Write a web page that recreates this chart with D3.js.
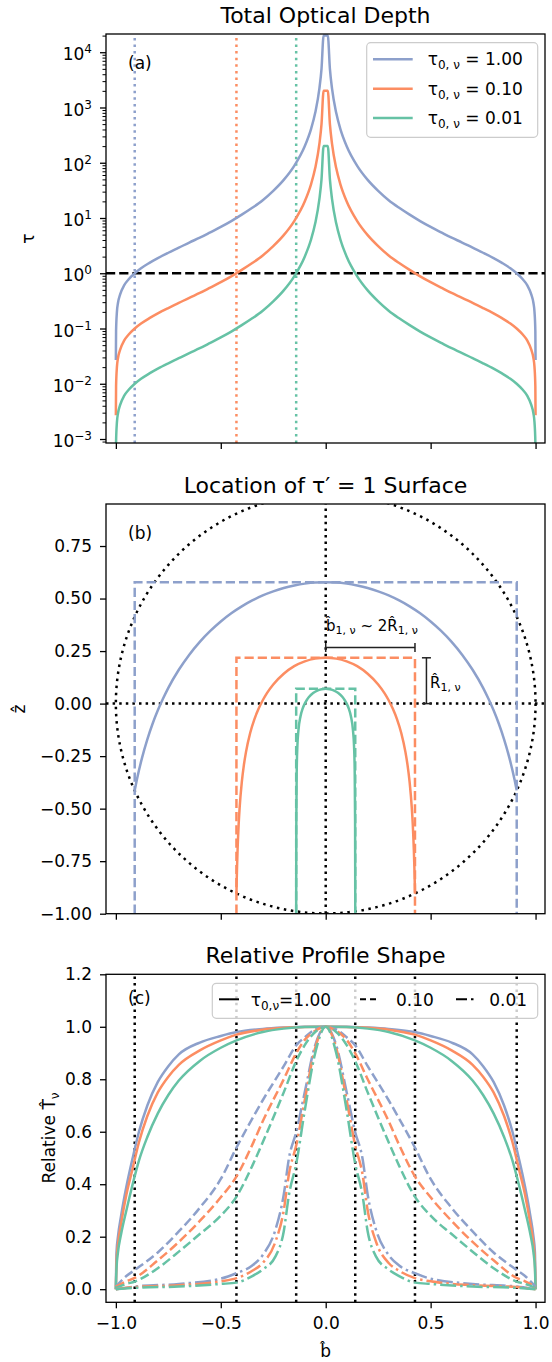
<!DOCTYPE html>
<html>
<head>
<meta charset="utf-8">
<script src="https://cdn.jsdelivr.net/npm/d3@7/dist/d3.min.js"></script>
<style>
  body { margin: 0; background: #fff; }
  text { font-family: 'DejaVu Sans', sans-serif; fill: #000; }
</style>
</head>
<body>
<script>
'use strict';

// one colour per tau0 (matplotlib Set2)
const colors = ['#8da0cb', '#fc8d62', '#66c2a5']
const tauNames = ['1.00', '0.10', '0.01']
const bOne = [0.9102, 0.4254, 0.1407]     // impact parameter where tau = 1
const zTop = [0.577, 0.218, 0.0705]       // top of the tau' = 1 surface

// ---- panel (a): total optical depth
const bA = [-1, -0.999, -0.995, -0.99, -0.98, -0.96, -0.94, -0.91, -0.88, -0.84, -0.8, -0.75, -0.7, -0.65, -0.6, -0.55, -0.5, -0.45, -0.4, -0.35, -0.3, -0.25, -0.2, -0.15, -0.1, -0.07, -0.05, -0.03, -0.02, -0.01,
  0.01, 0.02, 0.03, 0.05, 0.07, 0.1, 0.15, 0.2, 0.25, 0.3, 0.35, 0.4, 0.45, 0.5, 0.55, 0.6, 0.65, 0.7, 0.75, 0.8, 0.84, 0.88, 0.91, 0.94, 0.96, 0.98, 0.99, 0.995, 0.999, 1]
const tauA1 = [0.027, 0.09, 0.2, 0.29, 0.41, 0.61, 0.77, 1.0, 1.23, 1.54, 1.88, 2.35, 2.9, 3.6, 4.4, 5.5, 6.9, 8.8, 11.5, 15.3, 21, 31, 49, 88, 199, 407, 800, 2220, 5000, 20000,
  20000, 5000, 2220, 800, 407, 199, 88, 49, 31, 21, 15.3, 11.5, 8.8, 6.9, 5.5, 4.4, 3.6, 2.9, 2.35, 1.88, 1.54, 1.23, 1.0, 0.77, 0.61, 0.41, 0.29, 0.2, 0.09, 0.027]
const tauA2 = [0.0027, 0.009, 0.02, 0.029, 0.041, 0.061, 0.077, 0.1, 0.123, 0.154, 0.188, 0.235, 0.29, 0.36, 0.44, 0.55, 0.69, 0.88, 1.15, 1.53, 2.1, 3.1, 4.9, 8.8, 19.9, 40.7, 80, 222, 500, 2000,
  2000, 500, 222, 80, 40.7, 19.9, 8.8, 4.9, 3.1, 2.1, 1.53, 1.15, 0.88, 0.69, 0.55, 0.44, 0.36, 0.29, 0.235, 0.188, 0.154, 0.123, 0.1, 0.077, 0.061, 0.041, 0.029, 0.02, 0.009, 0.0027]
const tauA3 = [0.00027, 0.0009, 0.002, 0.0029, 0.0041, 0.0061, 0.0077, 0.01, 0.0123, 0.0154, 0.0188, 0.0235, 0.029, 0.036, 0.044, 0.055, 0.069, 0.088, 0.115, 0.153, 0.21, 0.31, 0.49, 0.88, 1.99, 4.07, 8.0, 22.2, 50, 200,
  200, 50, 22.2, 8.0, 4.07, 1.99, 0.88, 0.49, 0.31, 0.21, 0.153, 0.115, 0.088, 0.069, 0.055, 0.044, 0.036, 0.029, 0.0235, 0.0188, 0.0154, 0.0123, 0.01, 0.0077, 0.0061, 0.0041, 0.0029, 0.002, 0.0009, 0.00027]
const logTicks = [1e-3, 1e-2, 1e-1, 1e0, 1e1, 1e2, 1e3, 1e4]

// ---- panel (b): location of the tau' = 1 surface
const bB1 = [-0.91, -0.9, -0.875, -0.85, -0.825, -0.8, -0.775, -0.75, -0.7, -0.65, -0.6, -0.55, -0.5, -0.45, -0.4, -0.35, -0.3, -0.25, -0.2, -0.15, -0.1, -0.05, 0,
  0.05, 0.1, 0.15, 0.2, 0.25, 0.3, 0.35, 0.4, 0.45, 0.5, 0.55, 0.6, 0.65, 0.7, 0.75, 0.775, 0.8, 0.825, 0.85, 0.875, 0.9, 0.91]
const zB1 = [-0.413, -0.363, -0.257, -0.170, -0.096, -0.032, 0.024, 0.075, 0.161, 0.233, 0.294, 0.346, 0.391, 0.430, 0.463, 0.491, 0.515, 0.534, 0.550, 0.562, 0.571, 0.576, 0.577,
  0.576, 0.571, 0.562, 0.550, 0.534, 0.515, 0.491, 0.463, 0.430, 0.391, 0.346, 0.294, 0.233, 0.161, 0.075, 0.024, -0.032, -0.096, -0.170, -0.257, -0.363, -0.413]
const bB2 = [-0.4254, -0.424, -0.4225, -0.42, -0.415, -0.41, -0.4, -0.39, -0.38, -0.36, -0.34, -0.32, -0.3, -0.28, -0.25, -0.2, -0.15, -0.1, -0.05, 0,
  0.05, 0.1, 0.15, 0.2, 0.25, 0.28, 0.3, 0.32, 0.34, 0.36, 0.38, 0.39, 0.4, 0.41, 0.415, 0.42, 0.4225, 0.424, 0.4254]
const zB2 = [-0.905, -0.837, -0.778, -0.697, -0.578, -0.493, -0.375, -0.293, -0.231, -0.140, -0.075, -0.025, 0.016, 0.050, 0.091, 0.142, 0.178, 0.201, 0.214, 0.218,
  0.214, 0.201, 0.178, 0.142, 0.091, 0.050, 0.016, -0.025, -0.075, -0.140, -0.231, -0.293, -0.375, -0.493, -0.578, -0.697, -0.778, -0.837, -0.905]
const bB3 = [-0.1407, -0.1406, -0.1405, -0.14, -0.138, -0.135, -0.13, -0.12, -0.11, -0.1, -0.09, -0.08, -0.06, -0.04, -0.02, 0,
  0.02, 0.04, 0.06, 0.08, 0.09, 0.1, 0.11, 0.12, 0.13, 0.135, 0.138, 0.14, 0.1405, 0.1406, 0.1407]
const zB3 = [-0.99, -0.854, -0.775, -0.557, -0.311, -0.202, -0.127, -0.060, -0.024, 0.000, 0.017, 0.031, 0.050, 0.062, 0.068, 0.0705,
  0.068, 0.062, 0.050, 0.031, 0.017, 0.000, -0.024, -0.060, -0.127, -0.202, -0.311, -0.557, -0.775, -0.854, -0.99]

// ---- panel (c): relative profile shape (solid: 1.00, dashed: 0.10, dash-dot: 0.01)
const bC = [-1, -0.997, -0.99, -0.975, -0.95, -0.92, -0.89, -0.85, -0.8, -0.75, -0.7, -0.6, -0.5, -0.425, -0.3, -0.2, -0.1, 0,
  0.1, 0.2, 0.3, 0.425, 0.5, 0.6, 0.7, 0.75, 0.8, 0.85, 0.89, 0.92, 0.95, 0.975, 0.99, 0.997, 1]
const solid1 = [0.0, 0.14, 0.2, 0.28, 0.39, 0.5, 0.6, 0.7, 0.79, 0.85, 0.895, 0.94, 0.965, 0.98, 0.992, 0.997, 1.0, 1.0,
  1.0, 0.997, 0.992, 0.98, 0.965, 0.94, 0.895, 0.85, 0.79, 0.7, 0.6, 0.5, 0.39, 0.28, 0.2, 0.14, 0.0]
const solid2 = [0.0, 0.1, 0.17, 0.25, 0.36, 0.46, 0.56, 0.66, 0.75, 0.81, 0.855, 0.91, 0.948, 0.97, 0.989, 0.996, 0.999, 1.0,
  0.999, 0.996, 0.989, 0.97, 0.948, 0.91, 0.855, 0.81, 0.75, 0.66, 0.56, 0.46, 0.36, 0.25, 0.17, 0.1, 0.0]
const solid3 = [0.0, 0.08, 0.14, 0.21, 0.3, 0.4, 0.49, 0.58, 0.67, 0.74, 0.795, 0.87, 0.92, 0.948, 0.98, 0.993, 0.999, 1.0,
  0.999, 0.993, 0.98, 0.948, 0.92, 0.87, 0.795, 0.74, 0.67, 0.58, 0.49, 0.4, 0.3, 0.21, 0.14, 0.08, 0.0]
const bCd = [-1, -0.95, -0.91, -0.8, -0.7, -0.6, -0.5, -0.425, -0.35, -0.3, -0.2, -0.14, -0.1, -0.05, 0,
  0.05, 0.1, 0.14, 0.2, 0.3, 0.35, 0.425, 0.5, 0.6, 0.7, 0.8, 0.91, 0.95, 1]
const dashed1 = [0.01, 0.05, 0.073, 0.14, 0.22, 0.31, 0.42, 0.54, 0.65, 0.72, 0.85, 0.93, 0.96, 0.99, 1.0,
  0.99, 0.96, 0.93, 0.85, 0.72, 0.65, 0.54, 0.42, 0.31, 0.22, 0.14, 0.073, 0.05, 0.01]
const dashed2 = [0.01, 0.03, 0.043, 0.11, 0.18, 0.26, 0.35, 0.43, 0.55, 0.64, 0.8, 0.9, 0.95, 0.985, 1.0,
  0.985, 0.95, 0.9, 0.8, 0.64, 0.55, 0.43, 0.35, 0.26, 0.18, 0.11, 0.043, 0.03, 0.01]
const dashed3 = [0.005, 0.02, 0.029, 0.08, 0.143, 0.21, 0.28, 0.353, 0.47, 0.56, 0.75, 0.87, 0.93, 0.98, 1.0,
  0.98, 0.93, 0.87, 0.75, 0.56, 0.47, 0.353, 0.28, 0.21, 0.143, 0.08, 0.029, 0.02, 0.005]
const bCdd = [-1, -0.91, -0.7, -0.5, -0.425, -0.35, -0.3, -0.24, -0.2, -0.175, -0.14, -0.1, -0.05, 0,
  0.05, 0.1, 0.14, 0.175, 0.2, 0.24, 0.3, 0.35, 0.425, 0.5, 0.7, 0.91, 1]
const dashdot1 = [0.0, 0.01, 0.02, 0.04, 0.061, 0.09, 0.13, 0.226, 0.36, 0.5, 0.6, 0.75, 0.93, 1.0,
  0.93, 0.75, 0.6, 0.5, 0.36, 0.226, 0.13, 0.09, 0.061, 0.04, 0.02, 0.01, 0.0]
const dashdot2 = [0.0, 0.008, 0.015, 0.03, 0.042, 0.07, 0.1, 0.18, 0.3, 0.44, 0.55, 0.72, 0.92, 1.0,
  0.92, 0.72, 0.55, 0.44, 0.3, 0.18, 0.1, 0.07, 0.042, 0.03, 0.015, 0.008, 0.0]
const dashdot3 = [0.0, 0.005, 0.01, 0.02, 0.025, 0.05, 0.075, 0.124, 0.22, 0.36, 0.48, 0.68, 0.9, 1.0,
  0.9, 0.68, 0.48, 0.36, 0.22, 0.124, 0.075, 0.05, 0.025, 0.02, 0.01, 0.005, 0.0]
const xTicks = [-1, -0.5, 0, 0.5, 1]

const m = { width: 552, height: 1362, left: 106, right: 545 }
const lw = 2.5
const dotted = '2.5,4.1'
const dashed = '9.2,4'
const dashdot = '16,4,2.5,4'

const svg = d3.select('body').append('svg')
  .attr('width', m.width)
  .attr('height', m.height)

const x = d3.scaleLinear().domain([-1.047, 1.045]).range([m.left, m.right])
const yA = d3.scaleLog().domain([Math.pow(10, -3.072), Math.pow(10, 4.33)]).range([443, 34])
const yB = d3.scaleLinear().domain([-1, 0.95]).range([913.7, 504])
const yC = d3.scaleLinear().domain([-0.05, 1.2]).range([1302.3, 974.3])

function clipFor(id, y) {
  const r = y.range()
  svg.append('clipPath').attr('id', id)
    .append('rect')
    .attr('x', m.left).attr('y', r[1])
    .attr('width', m.right - m.left).attr('height', r[0] - r[1])
  return svg.append('g').attr('clip-path', 'url(#' + id + ')')
}

function drawCurve(g, xs, ys, y, color, dash) {
  const line = d3.line()
    .x((d, i) => x(xs[i]))
    .y((d) => y(d))
    .curve(d3.curveMonotoneX)
  g.append('path')
    .attr('d', line(ys))
    .attr('fill', 'none')
    .attr('stroke', color)
    .attr('stroke-width', lw)
    .attr('stroke-dasharray', dash || null)
}

function vline(g, xv, y, color, dash) {
  const r = y.range()
  g.append('line')
    .attr('x1', x(xv)).attr('x2', x(xv))
    .attr('y1', r[0]).attr('y2', r[1])
    .attr('stroke', color).attr('stroke-width', lw)
    .attr('stroke-dasharray', dash)
}

function frame(y) {
  const r = y.range()
  svg.append('rect')
    .attr('x', m.left).attr('y', r[1])
    .attr('width', m.right - m.left).attr('height', r[0] - r[1])
    .attr('fill', 'none').attr('stroke', '#000').attr('stroke-width', 1.3)
}

function styleAxis(g) {
  g.select('.domain').remove()
  g.selectAll('.tick line').attr('stroke', '#000').attr('stroke-width', 1.3)
  g.selectAll('.tick text').attr('font-size', 17).attr('font-family', 'DejaVu Sans').attr('fill', '#000')
}

function xAxis(y, labels) {
  const g = svg.append('g')
    .attr('transform', 'translate(0,' + y.range()[0] + ')')
    .call(d3.axisBottom(x).tickValues(xTicks).tickSize(6).tickPadding(9)
      .tickFormat(labels ? d3.format('.1f') : ''))
  styleAxis(g)
  return g
}

function title(text, yPos) {
  svg.append('text')
    .attr('x', (m.left + m.right) / 2).attr('y', yPos)
    .attr('text-anchor', 'middle').attr('font-size', 22)
    .text(text)
}

function panelLabel(text, yPos) {
  svg.append('text').attr('x', 128).attr('y', yPos).attr('font-size', 17).text(text)
}

function tauLabel(t, value, gap) {
  t.append('tspan').text('τ')
  t.append('tspan').attr('font-size', 12).attr('dy', 4).text(gap ? '0, ν' : '0,ν')
  t.append('tspan').attr('dy', -4).text(gap ? ' = ' + value : '=' + value)
}

// ================= panel (a)
title('Total Optical Depth', 23)
const gA = clipFor('clipA', yA)
bOne.forEach((b, i) => vline(gA, -b, yA, colors[i], dotted))
gA.append('line')
  .attr('x1', m.left).attr('x2', m.right)
  .attr('y1', yA(1)).attr('y2', yA(1))
  .attr('stroke', '#000').attr('stroke-width', lw).attr('stroke-dasharray', dashed)
;[tauA1, tauA2, tauA3].forEach((s, i) => drawCurve(gA, bA, s, yA, colors[i]))

const minorA = []
d3.range(-4, 5).forEach((e) => {
  d3.range(2, 10).forEach((k) => {
    const v = k * Math.pow(10, e)
    if (v > yA.domain()[0] && v < yA.domain()[1]) minorA.push(v)
  })
})
const gAyMinor = svg.append('g').attr('transform', 'translate(' + m.left + ',0)')
  .call(d3.axisLeft(yA).tickValues(minorA).tickSize(3.5).tickFormat(''))
styleAxis(gAyMinor)
gAyMinor.selectAll('.tick line').attr('stroke-width', 1)
const gAy = svg.append('g').attr('transform', 'translate(' + m.left + ',0)')
  .call(d3.axisLeft(yA).tickValues(logTicks).tickSize(6).tickPadding(8))
styleAxis(gAy)
gAy.selectAll('.tick text').each(function (d) {
  const e = Math.round(Math.log10(d))
  const t = d3.select(this).text('').attr('dy', '0.45em')
  t.append('tspan').text('10')
  t.append('tspan').attr('font-size', 12).attr('dy', -7).text(e < 0 ? '\u2212' + (-e) : e)
})
xAxis(yA, false)
frame(yA)
panelLabel('(a)', 69)

svg.append('text')
  .attr('transform', 'translate(34,238.5) rotate(-90)')
  .attr('text-anchor', 'middle').attr('font-size', 17).text('τ')

const legA = svg.append('g')
legA.append('rect')
  .attr('x', 366.7).attr('y', 42.7).attr('width', 171).attr('height', 94.6).attr('rx', 4)
  .attr('fill', '#fff').attr('fill-opacity', 0.8).attr('stroke', '#cccccc').attr('stroke-width', 1.2)
tauNames.forEach((v, i) => {
  const yy = 59.3 + i * 29.4
  legA.append('line').attr('x1', 373).attr('x2', 412.7).attr('y1', yy).attr('y2', yy)
    .attr('stroke', colors[i]).attr('stroke-width', lw)
  tauLabel(legA.append('text').attr('x', 427.7).attr('y', yy + 6).attr('font-size', 17), v, true)
})

// ================= panel (b)
title('Location of τ\u2032 = 1 Surface', 492.7)
const gB = clipFor('clipB', yB)
gB.append('circle')
  .attr('cx', x(0)).attr('cy', yB(0)).attr('r', x(1) - x(0))
  .attr('fill', 'none').attr('stroke', '#000').attr('stroke-width', lw).attr('stroke-dasharray', '2.5,4.6')
vline(gB, 0, yB, '#000', dotted)
gB.append('line')
  .attr('x1', m.left).attr('x2', m.right).attr('y1', yB(0)).attr('y2', yB(0))
  .attr('stroke', '#000').attr('stroke-width', lw).attr('stroke-dasharray', dotted)
bOne.forEach((b, i) => {
  const box = [[-b, -1], [-b, zTop[i]], [b, zTop[i]], [b, -1]]
  gB.append('path')
    .attr('d', d3.line().x((d) => x(d[0])).y((d) => yB(d[1]))(box))
    .attr('fill', 'none').attr('stroke', colors[i]).attr('stroke-width', lw)
    .attr('stroke-dasharray', dashed)
})
drawCurve(gB, bB1, zB1, yB, colors[0])
drawCurve(gB, bB2, zB2, yB, colors[1])
drawCurve(gB, bB3, zB3, yB, colors[2])

// brackets for b_1 and R_1
const ann = svg.append('g').attr('stroke', '#222').attr('stroke-width', 1.5)
const hy = yB(0.267)
ann.append('line').attr('x1', x(0)).attr('x2', x(bOne[1])).attr('y1', hy).attr('y2', hy)
;[0, bOne[1]].forEach((b) => {
  ann.append('line').attr('x1', x(b)).attr('x2', x(b)).attr('y1', hy - 4.5).attr('y2', hy + 4.5)
})
const vx = x(0.48)
ann.append('line').attr('x1', vx).attr('x2', vx).attr('y1', yB(0)).attr('y2', yB(zTop[1]))
;[0, zTop[1]].forEach((z) => {
  ann.append('line').attr('x1', vx - 4.5).attr('x2', vx + 4.5).attr('y1', yB(z)).attr('y2', yB(z))
})
const tb = svg.append('text').attr('x', 372).attr('y', 631).attr('text-anchor', 'middle').attr('font-size', 15)
tb.append('tspan').text('b\u0302')
tb.append('tspan').attr('font-size', 11).attr('dy', 3).text('1, ν')
tb.append('tspan').attr('dy', -3).text(' ~ 2R\u0302')
tb.append('tspan').attr('font-size', 11).attr('dy', 3).text('1, ν')
const tr = svg.append('text').attr('x', 430).attr('y', 688).attr('font-size', 15)
tr.append('tspan').text('R\u0302')
tr.append('tspan').attr('font-size', 11).attr('dy', 3).text('1, ν')

const gBy = svg.append('g').attr('transform', 'translate(' + m.left + ',0)')
  .call(d3.axisLeft(yB).tickValues([-1, -0.75, -0.5, -0.25, 0, 0.25, 0.5, 0.75]).tickSize(6).tickPadding(8)
    .tickFormat(d3.format('.2f')))
styleAxis(gBy)
xAxis(yB, false)
frame(yB)
panelLabel('(b)', 539)
svg.append('text')
  .attr('transform', 'translate(25,709) rotate(-90)')
  .attr('text-anchor', 'middle').attr('font-size', 17).text('\u1E91')

// ================= panel (c)
title('Relative Profile Shape', 963)
const gC = clipFor('clipC', yC)
bOne.forEach((b) => {
  vline(gC, -b, yC, '#000', dotted)
  vline(gC, b, yC, '#000', dotted)
})
drawCurve(gC, bC, solid1, yC, colors[0])
drawCurve(gC, bC, solid2, yC, colors[1])
drawCurve(gC, bC, solid3, yC, colors[2])
drawCurve(gC, bCd, dashed1, yC, colors[0], dashed)
drawCurve(gC, bCd, dashed2, yC, colors[1], dashed)
drawCurve(gC, bCd, dashed3, yC, colors[2], dashed)
drawCurve(gC, bCdd, dashdot1, yC, colors[0], dashdot)
drawCurve(gC, bCdd, dashdot2, yC, colors[1], dashdot)
drawCurve(gC, bCdd, dashdot3, yC, colors[2], dashdot)

const gCy = svg.append('g').attr('transform', 'translate(' + m.left + ',0)')
  .call(d3.axisLeft(yC).tickValues([0, 0.2, 0.4, 0.6, 0.8, 1.0, 1.2]).tickSize(6).tickPadding(8)
    .tickFormat(d3.format('.1f')))
styleAxis(gCy)
xAxis(yC, true)
frame(yC)
panelLabel('(c)', 1004)

const ly = svg.append('text')
  .attr('transform', 'translate(55,1138) rotate(-90)')
  .attr('text-anchor', 'middle').attr('font-size', 17)
ly.append('tspan').text('Relative T\u0302')
ly.append('tspan').attr('font-size', 12).attr('dy', 4).text('ν')

svg.append('text')
  .attr('x', x(0)).attr('y', 1357)
  .attr('text-anchor', 'middle').attr('font-size', 17).text('b\u0302')

const legC = svg.append('g')
legC.append('rect')
  .attr('x', 212.3).attr('y', 983.3).attr('width', 325.4).attr('height', 35).attr('rx', 4)
  .attr('fill', '#fff').attr('fill-opacity', 0.8).attr('stroke', '#cccccc').attr('stroke-width', 1.2)
const legItems = [
  { x1: 219, text: 250.7, dash: null },
  { x1: 360, text: 396, dash: '6,4' },
  { x1: 456, text: 489.3, dash: '11,4,2.5,4' }
]
legItems.forEach((it, i) => {
  legC.append('line').attr('x1', it.x1).attr('x2', it.x1 + 20).attr('y1', 999.3).attr('y2', 999.3)
    .attr('stroke', '#000').attr('stroke-width', 2).attr('stroke-dasharray', it.dash)
  const t = legC.append('text').attr('x', it.text).attr('y', 1005.5).attr('font-size', 17)
  if (i === 0) tauLabel(t, tauNames[0], false)
  else t.text(tauNames[i])
})
</script>
</body>
</html>
